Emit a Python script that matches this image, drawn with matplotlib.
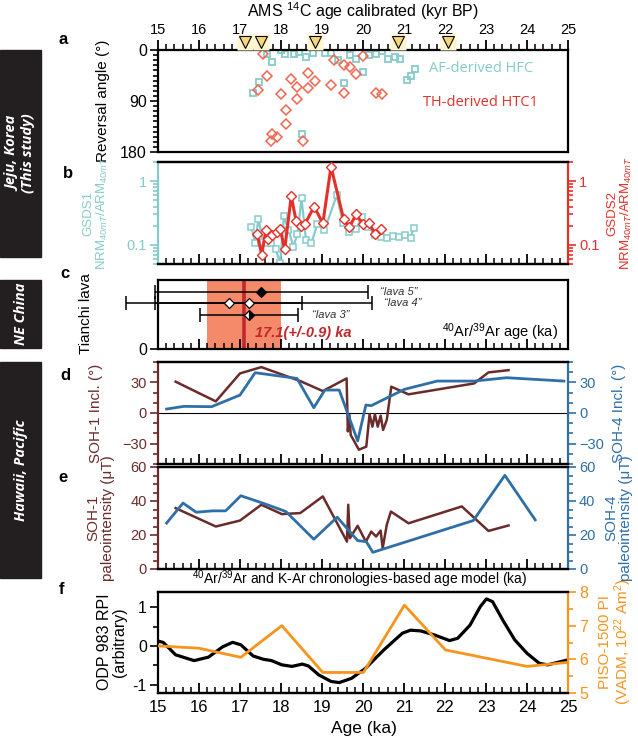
import matplotlib
matplotlib.use('Agg')
import matplotlib.pyplot as plt
from matplotlib.ticker import MultipleLocator, FixedLocator, NullFormatter, LogLocator, AutoMinorLocator
from matplotlib.patches import Rectangle
import matplotlib.transforms as mtransforms

plt.rcParams['font.family'] = ['Liberation Sans', 'DejaVu Sans']
plt.rcParams['mathtext.fontset'] = 'custom'
plt.rcParams['mathtext.rm'] = 'Liberation Sans'
plt.rcParams['mathtext.it'] = 'Liberation Sans:italic'

# ---------------- data ----------------
# (a) reversal angle
af_age = [17.31, 17.47, 17.67, 17.78, 18.0, 18.1, 18.31, 18.43, 18.61, 18.77, 18.52, 19.08, 19.21,
          19.38, 19.54, 19.68, 19.84, 19.99, 20.15, 20.31, 20.46, 20.61, 20.77, 20.9, 21.07, 21.17, 21.27]
af_ang = [75, 57, 7.7, 20.7, 0, 7, 7.7, 4, 13, 6, 149, 6, 6,
          17.7, 58, 8, 15, 38, 9.4, 7, 1.2, 15, 12, 15, 53, 45, 33]
th_age = [17.55, 17.45, 17.66, 18.0, 18.11, 18.11, 17.78, 17.76, 17.9, 18.25, 18.39, 18.39, 18.53,
          18.65, 18.66, 18.84, 19.30, 19.22, 19.53, 19.54, 19.69, 19.84, 19.99, 20.31, 20.47]
th_ang = [7, 70, 45, 78, 106, 130, 149, 161, 154, 52, 66, 87, 161,
          40, 67, 54, 17, 61, 27, 76, 30, 42, 10.6, 75, 78]
c14_ages = [17.12, 17.52, 18.82, 20.85, 22.07]

# (b) GSDS1 / GSDS2
gsds1_age = [17.28, 17.37, 17.45, 17.56, 17.67, 17.76, 17.87, 17.98, 18.07, 18.18, 18.3, 18.4, 18.5,
             18.61, 18.74, 18.89, 19.06, 19.36, 19.51, 19.67, 19.83, 19.97, 20.13, 20.3, 20.43,
             20.59, 20.73, 20.87, 21.03, 21.16, 21.24]
gsds1_val = [0.19, 0.106, 0.258, 0.11, 0.105, 0.108, 0.087, 0.051, 0.28, 0.174, 0.094, 0.146, 0.54,
             0.12, 0.106, 0.215, 0.17, 0.60, 0.22, 0.157, 0.177, 0.27, 0.19, 0.142, 0.135,
             0.126, 0.138, 0.134, 0.144, 0.13, 0.183]
gsds2_age = [17.42, 17.53, 17.63, 17.69, 17.79, 17.9, 17.98, 18.09, 18.25, 18.37, 18.48, 18.58,
             18.81, 19.02, 19.22, 19.53, 19.67, 19.83, 20.0, 20.14, 20.3, 20.44]
gsds2_val = [0.146, 0.070, 0.17, 0.122, 0.143, 0.16, 0.177, 0.085, 0.58, 0.235, 0.195, 0.21,
             0.40, 0.217, 1.69, 0.25, 0.19, 0.30, 0.21, 0.22, 0.148, 0.18]

# (c) Tianchi lava 40Ar/39Ar ages
lava_labels = ['\u201clava 5\u201d', '\u201clava 4\u201d', '\u201clava 3\u201d']
lava_rows = [3.3, 2.65, 2.0]
lava_ages = [[17.52], [16.72, 17.21], [17.22]]
lava_errs = [[2.59], [1.8, 3.0], [1.2]]
lava_mean, lava_sd = 17.1, 0.9

# (d) inclination
soh1_inc_age = [15.43, 16.41, 17.0, 17.52, 18.47, 19.02, 19.6, 19.63, 19.67, 19.7, 19.9, 20.08, 20.16,
                20.23, 20.29, 20.36, 20.43, 20.49, 20.58, 20.69, 21.11, 22.71, 23.06, 23.55]
soh1_inc = [30.7, 11.4, 38.8, 45, 31.3, 21.5, 33.9, -18, -2, -21.5, -36, -33, -1.3,
            -13.4, -1.3, -13.4, -2.6, -16.6, -6.8, 25.8, 18.3, 29, 39.8, 42]
soh4_inc_age = [15.21, 15.63, 16.31, 17.0, 17.37, 18.39, 18.8, 19.07, 19.42, 19.87, 20.07, 20.2,
                21.01, 21.81, 22.71, 23.5, 24.9]
soh4_inc = [3.9, 6.5, 6.2, 17.6, 39.5, 33.9, 5.2, 22.5, 22.5, -27.4, 7.8, 7.2,
            23.2, 31.3, 31.3, 34.6, 31.3]

# (e) paleointensity
soh1_pi_age = [15.43, 16.41, 17.0, 17.52, 18.02, 18.47, 19.02, 19.61, 19.64, 19.68, 19.87, 20.07,
               20.2, 20.32, 20.43, 20.48, 20.58, 20.68, 21.11, 22.41, 23.06, 23.55]
soh1_pi = [35.8, 25, 28.5, 37.8, 32.3, 32.9, 42.7, 16.1, 37.8, 18.1, 25.4, 16.1,
           22, 19.1, 22.6, 12.2, 26, 33.8, 26.9, 36.8, 22.4, 25.6]
soh4_pi_age = [15.21, 15.61, 15.93, 16.33, 16.65, 17.02, 17.62, 18.12, 18.8, 19.37, 19.87, 20.08,
               20.24, 22.69, 23.46, 24.2]
soh4_pi = [27, 38.8, 33.4, 34.2, 34.2, 43.1, 38.2, 33.8, 17.5, 30.5, 16.7, 16.1,
           9.8, 28.5, 55.1, 28.9]

# (f) ODP 983 RPI and PISO-1500
odp_age = [15.0, 15.13, 15.43, 15.88, 16.23, 16.58, 16.82, 17.02, 17.32, 17.57, 17.77, 18.02, 18.27,
           18.52, 18.67, 18.92, 19.22, 19.42, 19.72, 20.06, 20.51, 20.96, 21.16, 21.41, 21.76, 22.11,
           22.31, 22.61, 22.86, 23.01, 23.16, 23.41, 23.7, 24.0, 24.3, 24.5, 25.0]
odp_rpi = [0.13, 0.09, -0.23, -0.38, -0.29, -0.02, 0.095, 0.03, -0.26, -0.345, -0.38, -0.49, -0.53,
           -0.47, -0.52, -0.75, -0.92, -0.95, -0.84, -0.58, -0.1, 0.33, 0.41, 0.39, 0.28, 0.14,
           0.2, 0.54, 1.02, 1.22, 1.15, 0.67, 0.16, -0.19, -0.45, -0.49, -0.36]
piso_age = [15.0, 16.0, 17.02, 18.02, 19.02, 20.01, 21.01, 22.01, 24.0, 25.0]
piso_pi = [6.40, 6.33, 6.06, 7.0, 5.61, 5.61, 7.61, 6.28, 5.79, 5.91]

# ---------------- style ----------------
CYAN = '#86cbcb'
RED = '#e5302a'
SALMON = '#f26650'
BROWN = '#6b2b2b'
BLUE = '#2f6fa7'
ORANGE = '#f7941d'
DARKRED = '#c1272d'
TS = 10.5

W, H = 638.0, 739.0
XL, XR = 158, 568

fig = plt.figure(figsize=(6.38, 7.39), dpi=100)


def add_ax(y0, y1):
    return fig.add_axes([XL / W, 1 - y1 / H, (XR - XL) / W, (y1 - y0) / H])


def setup_x(ax, top=False, labels=False):
    ax.set_xlim(15, 25)
    ax.xaxis.set_major_locator(MultipleLocator(1))
    ax.xaxis.set_minor_locator(MultipleLocator(0.2))
    if top:
        ax.tick_params(axis='x', which='both', top=True, bottom=False, labeltop=True,
                       labelbottom=False, direction='out')
    else:
        ax.tick_params(axis='x', which='both', top=False, bottom=True, labelbottom=labels,
                       direction='in')
    ax.tick_params(axis='x', which='major', length=7, width=1.3, labelsize=TS, pad=2)
    ax.tick_params(axis='x', which='minor', length=4, width=1.1)
    for s in ax.spines.values():
        s.set_linewidth(1.6)


def ytick_style(ax, color='black', side='left'):
    ax.tick_params(axis='y', which='both', direction='out', colors=color, labelsize=TS,
                   width=1.2, pad=2)
    ax.tick_params(axis='y', which='major', length=6)
    ax.tick_params(axis='y', which='minor', length=3.5)


def ftext(xpx, ypx, s, **kw):
    return fig.text(xpx / W, 1 - ypx / H, s, **kw)


# ---------------- (a) ----------------
ax_a = add_ax(50, 152)
setup_x(ax_a, top=True)
ax_a.set_ylim(180, 0)
ax_a.yaxis.set_major_locator(FixedLocator([0, 90, 180]))
ax_a.yaxis.set_minor_locator(AutoMinorLocator(10))
ytick_style(ax_a)
ax_a.tick_params(axis='y', labelsize=11.5)
ax_a.plot(af_age, af_ang, ls='none', marker='s', ms=5, mfc='none', mec=CYAN, mew=1.3)
ax_a.plot(th_age, th_ang, ls='none', marker='D', ms=4.8, mfc='none', mec=SALMON, mew=1.1)
ax_a.text(21.6, 33, 'AF-derived HFC', color=CYAN, fontsize=10.5, va='center', ha='left',
          family=['Open Sans', 'DejaVu Sans'])
ax_a.text(21.47, 93, 'TH-derived HTC1', color=RED, fontsize=10.5, va='center', ha='left',
          family=['Open Sans', 'DejaVu Sans'])
trans_a = mtransforms.blended_transform_factory(ax_a.transData, ax_a.transAxes)
ax_a.plot(c14_ages, [1.08] * len(c14_ages), ls='none', marker='s', ms=11, mfc='#fdf5cc',
          mec='none', transform=trans_a, clip_on=False, zorder=4)
ax_a.plot(c14_ages, [1.08] * len(c14_ages), ls='none', marker='v', ms=9, mfc='#f7d57a',
          mec='black', mew=0.8, transform=trans_a, clip_on=False, zorder=5)
ftext(363, 11, 'AMS $^{14}$C age calibrated (kyr BP)', ha='center', va='center', fontsize=11.5)

# ---------------- (b) ----------------
ax_b = add_ax(162, 264)
setup_x(ax_b)
ax_b.set_yscale('log')
ax_b.set_ylim(0.05, 2.0)
ax_b.yaxis.set_major_locator(FixedLocator([0.1, 1]))
ax_b.yaxis.set_major_formatter(plt.FuncFormatter(lambda v, p: '0.1' if v < 0.5 else '1'))
ax_b.yaxis.set_minor_locator(LogLocator(base=10, subs=range(2, 10)))
ax_b.yaxis.set_minor_formatter(NullFormatter())
ytick_style(ax_b, CYAN)
ax_b.spines['left'].set_color(CYAN)
ax_b.spines['right'].set_visible(False)
ax_b.plot(gsds1_age, gsds1_val, color=CYAN, lw=1.6, marker='s', ms=4.2, mfc='white',
          mec=CYAN, mew=1.1, zorder=3)
ax_b2 = ax_b.twinx()
ax_b2.set_yscale('log')
ax_b2.set_ylim(0.05, 2.0)
ax_b2.yaxis.set_major_locator(FixedLocator([0.1, 1]))
ax_b2.yaxis.set_major_formatter(plt.FuncFormatter(lambda v, p: '0.1' if v < 0.5 else '1'))
ax_b2.yaxis.set_minor_locator(LogLocator(base=10, subs=range(2, 10)))
ax_b2.yaxis.set_minor_formatter(NullFormatter())
ytick_style(ax_b2, RED)
for s in ax_b2.spines.values():
    s.set_linewidth(1.6)
ax_b2.spines['left'].set_visible(False)
ax_b2.spines['right'].set_color(RED)
ax_b2.plot(gsds2_age, gsds2_val, color=RED, lw=2.2, marker='D', ms=4.6, mfc='white',
           mec=RED, mew=1.0, zorder=4)

# ---------------- (c) ----------------
ax_c = add_ax(280, 349)
setup_x(ax_c)
ax_c.set_ylim(0, 4)
ax_c.yaxis.set_major_locator(FixedLocator([0]))
ytick_style(ax_c)
ax_c.tick_params(axis='y', labelsize=11.5)
ax_c.axvspan(lava_mean - lava_sd, lava_mean + lava_sd, color='#f58a6b', lw=0, zorder=0)
ax_c.axvline(lava_mean, color=DARKRED, lw=2.6, zorder=1)
mstyles = [dict(mfc='black', mec='black'),
           dict(mfc='white', mec='black'),
           dict(mfc='black', mec='black', fillstyle='right', markerfacecoloralt='white')]
for yy, ages, errs, st in zip(lava_rows, lava_ages, lava_errs, mstyles):
    for a, e in zip(ages, errs):
        eb = ax_c.errorbar(a, yy, xerr=e, fmt='none', ecolor='black', elinewidth=1.1,
                           capsize=5, capthick=1.1, zorder=3)
        for art in list(eb.lines[1]) + list(eb.lines[2]):
            art.set_clip_on(False)
    ax_c.plot(ages, [yy] * len(ages), ls='none', marker='D', ms=5.5, mew=0.9, zorder=5, **st)
lab_x = [20.42, 20.52, 18.75]
for lx, yy, lab in zip(lab_x, lava_rows, lava_labels):
    ax_c.text(lx, yy, lab, fontsize=8, style='italic', color='#333333', va='center', ha='left')
ax_c.text(17.37, 0.9, '17.1(+/-0.9) ka', color=DARKRED, fontsize=10.5, style='italic',
          weight='bold', va='center', ha='left',
          family=['Liberation Sans Narrow', 'Liberation Sans', 'DejaVu Sans'])
ax_c.text(24.75, 0.95, '$^{40}$Ar/$^{39}$Ar age (ka)', fontsize=10.5, va='center', ha='right')

# ---------------- (d) ----------------
ax_d = add_ax(362, 464)
setup_x(ax_d)
ax_d.set_ylim(-50, 50)
ax_d.yaxis.set_major_locator(FixedLocator([-30, 0, 30]))
ax_d.yaxis.set_minor_locator(MultipleLocator(10))
ytick_style(ax_d, BROWN)
ax_d.spines['left'].set_color(BROWN)
ax_d.spines['right'].set_visible(False)
ax_d.axhline(0, color='black', lw=0.8, zorder=1)
ax_d.plot(soh1_inc_age, soh1_inc, color=BROWN, lw=1.8, zorder=3)
ax_d2 = ax_d.twinx()
ax_d2.set_ylim(-50, 50)
ax_d2.yaxis.set_major_locator(FixedLocator([-30, 0, 30]))
ax_d2.yaxis.set_minor_locator(MultipleLocator(10))
ytick_style(ax_d2, BLUE)
for s in ax_d2.spines.values():
    s.set_linewidth(1.6)
ax_d2.spines['left'].set_visible(False)
ax_d2.spines['right'].set_color(BLUE)
ax_d2.plot(soh4_inc_age, soh4_inc, color=BLUE, lw=2.0, zorder=4)

# ---------------- (e) ----------------
ax_e = add_ax(467, 569)
setup_x(ax_e)
ax_e.set_ylim(0, 60)
ax_e.yaxis.set_major_locator(FixedLocator([0, 20, 40, 60]))
ax_e.yaxis.set_minor_locator(MultipleLocator(5))
ytick_style(ax_e, BROWN)
ax_e.spines['left'].set_color(BROWN)
ax_e.spines['right'].set_visible(False)
ax_e.plot(soh1_pi_age, soh1_pi, color=BROWN, lw=1.8, zorder=3)
ax_e2 = ax_e.twinx()
ax_e2.set_ylim(0, 60)
ax_e2.yaxis.set_major_locator(FixedLocator([0, 20, 40, 60]))
ax_e2.yaxis.set_minor_locator(MultipleLocator(5))
ytick_style(ax_e2, BLUE)
for s in ax_e2.spines.values():
    s.set_linewidth(1.6)
ax_e2.spines['left'].set_visible(False)
ax_e2.spines['right'].set_color(BLUE)
ax_e2.plot(soh4_pi_age, soh4_pi, color=BLUE, lw=2.0, zorder=4)
ftext(360, 579, '$^{40}$Ar/$^{39}$Ar and K-Ar chronologies-based age model (ka)',
      ha='center', va='center', fontsize=10)

# ---------------- (f) ----------------
ax_f = add_ax(592, 693)
setup_x(ax_f, labels=True)
ax_f.tick_params(axis='x', which='major', labelsize=12, pad=5)
ax_f.set_ylim(-1.22, 1.4)
ax_f.yaxis.set_major_locator(FixedLocator([-1, 0, 1]))
ax_f.yaxis.set_major_formatter(plt.FuncFormatter(lambda v, p: '%d' % v))
ax_f.yaxis.set_minor_locator(MultipleLocator(0.5))
ytick_style(ax_f, 'black')
ax_f.tick_params(axis='y', labelsize=11.5)
ax_f.spines['right'].set_visible(False)
ax_f.plot(odp_age, odp_rpi, color='black', lw=2.3, zorder=4)
ax_f2 = ax_f.twinx()
ax_f2.set_ylim(5, 8)
ax_f2.yaxis.set_major_locator(FixedLocator([5, 6, 7, 8]))
ax_f2.yaxis.set_minor_locator(MultipleLocator(0.5))
ytick_style(ax_f2, ORANGE)
ax_f2.tick_params(axis='y', labelsize=11.5)
for s in ax_f2.spines.values():
    s.set_linewidth(1.6)
ax_f2.spines['left'].set_visible(False)
ax_f2.spines['right'].set_color(ORANGE)
ax_f2.plot(piso_age, piso_pi, color=ORANGE, lw=2.0, zorder=3)
ftext(364, 729, 'Age (ka)', ha='center', va='center', fontsize=12.5)

# ---------------- y labels ----------------
LS = 11
ftext(103, 101, 'Reversal angle (\u00b0)', rotation=90, ha='center', va='center', fontsize=LS)
ftext(96, 213, 'GSDS1\nNRM$_{40mT}$/ARM$_{40mT}$', rotation=90, ha='center', va='center',
      fontsize=9.5, color=CYAN, linespacing=1.0)
ftext(620, 213, 'GSDS2\nNRM$_{40mT}$/ARM$_{40mT}$', rotation=90, ha='center', va='center',
      fontsize=9.5, color=RED, linespacing=1.0)
ftext(86, 314, 'Tianchi lava', rotation=90, ha='center', va='center', fontsize=LS)
ftext(96, 413, 'SOH-1 Incl. (\u00b0)', rotation=90, ha='center', va='center', fontsize=LS,
      color=BROWN)
ftext(619, 413, 'SOH-4 Incl. (\u00b0)', rotation=90, ha='center', va='center', fontsize=LS,
      color=BLUE)
ftext(101, 518, 'SOH-1\npaleointensity (\u03bcT)', rotation=90, ha='center', va='center',
      fontsize=LS, color=BROWN, linespacing=1.05)
ftext(619, 518, 'SOH-4\npaleointensity (\u03bcT)', rotation=90, ha='center', va='center',
      fontsize=LS, color=BLUE, linespacing=1.05)
ftext(112, 642, 'ODP 983 RPI\n(arbitrary)', rotation=90, ha='center', va='center',
      fontsize=11.5, linespacing=1.05)
ftext(616, 642, 'PISO-1500 PI\n(VADM, 10$^{22}$ Am$^{2}$)', rotation=90, ha='center',
      va='center', fontsize=11, color=ORANGE, linespacing=1.05)

# ---------------- panel letters ----------------
for lab, (xp, yp) in zip('abcdef', [(63, 40), (68, 173), (65, 273), (65, 375), (63, 478),
                                      (62, 589)]):
    ftext(xp, yp, lab, fontsize=12, weight='bold', ha='center', va='center')

# ---------------- region boxes ----------------
boxes = [(50, 257, 'Jeju, Korea\n(This study)'), (280, 348, 'NE China'),
         (362, 578, 'Hawaii, Pacific')]
for y0, y1, txt in boxes:
    fig.patches.append(Rectangle((0, 1 - y1 / H), 41 / W, (y1 - y0) / H,
                                 transform=fig.transFigure, color='#231f20', zorder=0))
    ftext(21, (y0 + y1) / 2, txt, rotation=90, ha='center', va='center', color='white',
          fontsize=10.5, weight='bold', style='italic', linespacing=1.05,
          family=['Open Sans', 'DejaVu Sans'])

fig.savefig('out.png', dpi=100)
